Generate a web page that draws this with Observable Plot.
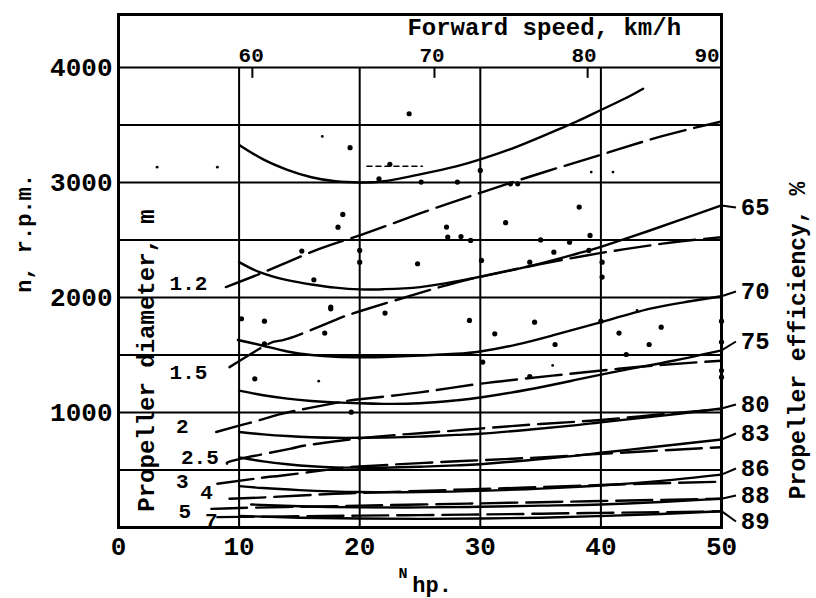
<!DOCTYPE html>
<html><head><meta charset="utf-8">
<script src="https://cdn.jsdelivr.net/npm/d3@7"></script>
<script src="https://cdn.jsdelivr.net/npm/@observablehq/plot@0.6"></script>
<style>html,body{margin:0;padding:0;background:#fff}#chart svg{display:block}</style>
</head><body><div id="chart"></div>
<script>
// ---- data (x = N hp, y = n r.p.m.) ----
const rpmTicks = [1000, 2000, 3000, 4000];
const hpTicks = [0, 10, 20, 30, 40, 50];
const rpmGrid = [500, 1000, 1500, 2000, 2500, 3000, 3500, 4000];
const hpGrid = [10, 20, 30, 40];

// top axis: forward speed, km/h
const speedLabels = ["60", "70", "80", "90"];
const speedLabelHp = [11.0, 26.0, 38.6, 48.8];
const speedTickHp = [11.1, 26.2, 38.9];

// solid curves (propeller efficiency, %)
const effTop = [[10.1,3320],[12,3200],[14,3110],[16,3045],[18,3010],[20,3000],[22,3010],[25,3070],[28,3140],[30,3200],[33,3310],[36,3440],[38,3530],[40,3630],[42,3730],[43.5,3815]];
const eff65 = [[10,2307],[11.7,2220],[14,2150],[16,2113],[18,2085],[20,2070],[22,2072],[25,2090],[28,2140],[30,2180],[34,2270],[38,2380],[40,2440],[44,2580],[47,2690],[50,2800]];
const eff70 = [[9.9,1630],[12,1580],[14,1530],[16,1500],[18,1485],[20,1480],[22,1482],[25,1495],[28,1510],[30,1530],[33,1590],[36,1670],[40,1785],[44,1900],[47,1960],[50,2010]];
const eff75 = [[10,1190],[12,1150],[14,1120],[16,1100],[18,1088],[20,1080],[22,1075],[25,1080],[28,1105],[30,1130],[34,1200],[38,1285],[42,1370],[46,1450],[50,1540]];
const eff80 = [[10,830],[12,810],[14,795],[16,785],[18,780],[20,780],[22,782],[25,790],[28,805],[30,815],[34,850],[38,890],[40,915],[44,960],[47,995],[50,1035]];
const eff83 = [[10,610],[12,575],[14,550],[16,532],[18,522],[20,520],[22,520],[25,528],[28,540],[30,550],[34,585],[38,625],[40,650],[44,695],[47,730],[50,765]];
const eff86 = [[10,360],[12,343],[15,325],[20,308],[25,308],[30,318],[35,338],[40,365],[45,405],[50,460]];
const eff88 = [[11,200],[15,185],[20,175],[25,175],[30,180],[35,190],[40,200],[45,222],[50,250]];
const eff89 = [[10,100],[15,85],[20,78],[25,75],[30,78],[35,85],[40,100],[45,118],[50,142]];
const effLabels = ["65", "70", "75", "80", "83", "86", "88", "89"];
const effLabelRpm = [2783, 2052, 1617, 1070, 817, 513, 278, 52];

// dashed lines (propeller diameter, m)
const diam12 = [[8.9,2090],[12.4,2235],[16.6,2420],[20,2540],[25,2730],[30,2910],[35,3080],[40,3240],[45,3400],[50,3530]];
const diam15 = [[9.2,1394],[12.5,1600],[14,1640],[17.9,1800],[20,1880],[25,2040],[27,2100],[30,2180],[35,2290],[38.8,2365],[42,2420],[46,2480],[50,2524]];
const diam2 = [[8.1,830],[10,885],[12.4,955],[14,1000],[17.6,1075],[20,1115],[25,1175],[30,1250],[36,1320],[43,1395],[50,1450]];
const diam25 = [[9,555],[10,595],[14.2,684],[15.5,713],[20,775],[25,820],[30,860],[35,900],[40,935],[45,985],[50,1030]];
const diam3 = [[8.2,380],[12.2,437],[13.6,452],[17.9,510],[20,530],[25,560],[30,585],[35,610],[40,640],[45,670],[50,698]];
const diam4 = [[9.2,250],[12.5,264],[17.9,293],[20,300],[25,318],[30,335],[35,352],[40,370],[45,385],[50,398]];
const diam5 = [[7.7,162],[10,170],[15,180],[20,190],[25,200],[30,210],[35,220],[40,230],[45,240],[50,250]];
const diam7 = [[8.2,90],[10,92],[15,98],[20,103],[25,108],[30,113],[35,120],[40,127],[45,133],[50,140]];
const diamLabels = ["1.2", "1.5", "2", "2.5", "3", "4", "5", "7"];
const diamLabelHp = [5.8, 5.8, 5.3, 6.75, 5.3, 7.3, 5.5, 7.7];
const diamLabelRpm = [2122, 1348, 878, 612, 398, 304, 139, 61];

// measured points
const bigDots = [[24.1,3597],[19.2,3302],[18.6,2722],[18.2,2611],[15.2,2403],[20,2409],[20,2307],[16.2,2154],[24.8,2293],[17.6,1916],
  [25.1,3003],[28.1,3003],[30,3104],[32.5,2988],[33.1,2988],[38.2,2786],[32.1,2650],[27.2,2612],[27.3,2525],[28.4,2530],[29.2,2496],
  [35,2500],[37.4,2481],[39.1,2539],[30.1,2322],[34.1,2307],[36.1,2394],[39,2409],[40.1,2307],[40.1,2177],
  [29.1,1800],[31.2,1684],[34.5,1785],[36.2,1591],[30.2,1438],[34.1,1313],[41.5,1690],[45,1742],[44,1591],[42.1,1504],
  [50,1794],[50,1612],[50,1365],[50,1307],[40,1794],[10.2,1815],[12.1,1794],[17.6,1901],[17.1,1690],[22.1,1864],[12.1,1597],[11.3,1293],[19.3,1003],[22.5,3157],[21.6,3032]];
const smallDots = [[16.9,3400],[3.2,3133],[8.2,3133],[16.6,1272],[39.2,3090],[41,3090],[36,1409],[43,1887]];
const strayDash = [[20.6,3140],[25.2,3140]];

// ---- build ----
const pts = (arr, id) => arr.map(([n, r]) => ({n, r, id}));
const solidData = [effTop, eff65, eff70, eff75, eff80, eff83, eff86, eff88, eff89].flatMap((a, i) => pts(a, i));
const dashData = [diam12, diam15, diam2, diam25, diam3, diam4, diam5, diam7].flatMap((a, i) => pts(a, i));
const effEnds = [eff65, eff70, eff75, eff80, eff83, eff86, eff88, eff89].map(a => a[a.length - 1]);
const leaders = effEnds.map((e, i) => ({n1: e[0], r1: e[1], n2: 51.2, r2: effLabelRpm[i]}));
const effText = effLabels.map((t, i) => ({t, r: effLabelRpm[i]}));
const diamText = diamLabels.map((t, i) => ({t, n: diamLabelHp[i], r: diamLabelRpm[i]}));
const speedText = speedLabels.map((t, i) => ({t, n: speedLabelHp[i]}));

const FONT = "'Liberation Mono', 'DejaVu Sans Mono', monospace";
const SW = 2.4;

const chart = Plot.plot({
  width: 816,
  height: 598,
  marginLeft: 118,
  marginRight: 95,
  marginTop: 14,
  marginBottom: 71,
  style: {fontFamily: FONT, fontWeight: "bold", background: "#fff", color: "#000"},
  x: {domain: [0, 50]},
  y: {domain: [0, 4460]},
  marks: [
    Plot.ruleY(rpmGrid, {strokeWidth: 2}),
    Plot.ruleX(hpGrid, {y1: 0, y2: 4000, strokeWidth: 2}),
    Plot.ruleX(speedTickHp, {y1: 4000, y2: 3905, strokeWidth: 2}),
    Plot.line(solidData, {x: "n", y: "r", z: "id", curve: "natural", strokeWidth: SW}),
    Plot.line(dashData, {x: "n", y: "r", z: "id", curve: "natural", strokeWidth: SW, strokeDasharray: "36,9"}),
    Plot.line(strayDash, {x: d => d[0], y: d => d[1], strokeWidth: 1.5, strokeDasharray: "5,4"}),
    Plot.link(leaders, {x1: "n1", y1: "r1", x2: "n2", y2: "r2", strokeWidth: 2}),
    Plot.dot(bigDots, {x: d => d[0], y: d => d[1], r: 2.6, fill: "black"}),
    Plot.dot(smallDots, {x: d => d[0], y: d => d[1], r: 1.4, fill: "black"}),
    Plot.frame({strokeWidth: 3}),
    Plot.axisY({ticks: rpmTicks, tickSize: 0, tickPadding: 6, fontSize: 26, label: null, tickFormat: d => String(d)}),
    Plot.axisX({ticks: hpTicks, tickSize: 0, tickPadding: 9, fontSize: 26, label: null}),
    Plot.text(speedText, {x: "n", y: 4000, text: "t", dy: -12, fontSize: 21}),
    Plot.text(["Forward speed, km/h"], {x: 35.3, y: 4352, fontSize: 24}),
    Plot.text(effText, {x: 51.6, y: "r", text: "t", textAnchor: "start", fontSize: 24}),
    Plot.text(diamText, {x: "n", y: "r", text: "t", fontSize: 21}),
    Plot.text(["n, r.p.m."], {x: -7.8, y: 2557, rotate: -90, fontSize: 22}),
    Plot.text(["Propeller diameter, m"], {x: 2.27, y: 1452, rotate: -90, fontSize: 24}),
    Plot.text(["Propeller efficiency, %"], {x: 56.3, y: 1626, rotate: -90, fontSize: 23}),
    Plot.text(["N"], {x: 23.6, y: -400, fontSize: 15}),
    Plot.text(["hp."], {x: 26.0, y: -500, fontSize: 22})
  ]
});
document.getElementById("chart").appendChild(chart);
</script>
</body></html>
